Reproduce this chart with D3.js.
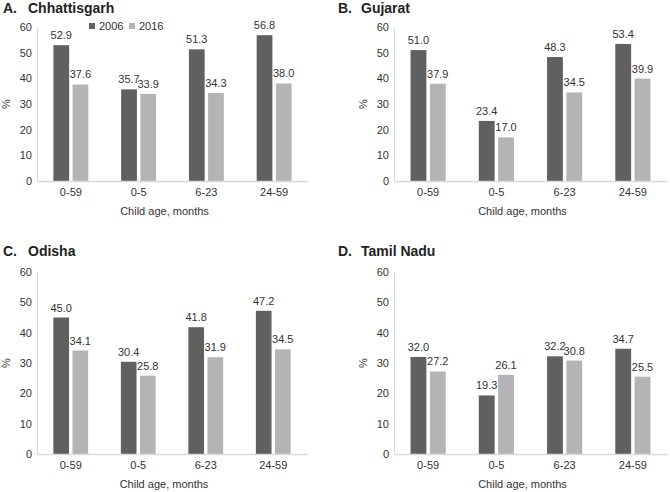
<!DOCTYPE html>
<html>
<head>
<meta charset="utf-8">
<script src="https://cdn.jsdelivr.net/npm/d3@7"></script>
<style>
  body { margin: 0; background: #fff; }
  svg { display: block; font-family: "Liberation Sans", Arial, sans-serif; }
</style>
</head>
<body>
<svg id="chart" width="670" height="492"></svg>
<script>
const categories = ["0-59", "0-5", "6-23", "24-59"];
const years = ["2006", "2016"];
const yTicks = [0, 10, 20, 30, 40, 50, 60];
const states = ["Chhattisgarh", "Gujarat", "Odisha", "Tamil Nadu"];
const letters = ["A.", "B.", "C.", "D."];
const chhattisgarh2006 = [52.9, 35.7, 51.3, 56.8];
const chhattisgarh2016 = [37.6, 33.9, 34.3, 38.0];
const gujarat2006 = [51.0, 23.4, 48.3, 53.4];
const gujarat2016 = [37.9, 17.0, 34.5, 39.9];
const odisha2006 = [45.0, 30.4, 41.8, 47.2];
const odisha2016 = [34.1, 25.8, 31.9, 34.5];
const tamilNadu2006 = [32.0, 19.3, 32.2, 34.7];
const tamilNadu2016 = [27.2, 26.1, 30.8, 25.5];
const xTitle = "Child age, months";
const yTitle = "%";

const seriesByState = [
  [chhattisgarh2006, chhattisgarh2016],
  [gujarat2006, gujarat2016],
  [odisha2006, odisha2016],
  [tamilNadu2006, tamilNadu2016]
];

const colors = { "2006": "#606060", "2016": "#b4b4b4" };
const textColor = "#333333";
const axisColor = "#d9d9d9";
const fs = 11;

// panel layout
const panels = [
  { ox: 0,   left: 37,  right: 308, top: 27,  bottom: 181, titleY: 13,  legend: true },
  { ox: 335, left: 394, right: 667, top: 27,  bottom: 181, titleY: 13,  legend: false },
  { ox: 0,   left: 37,  right: 307, top: 272, bottom: 454, titleY: 256, legend: false },
  { ox: 335, left: 394, right: 667, top: 272, bottom: 454, titleY: 256, legend: false }
];

const svg = d3.select("#chart");

panels.forEach((p, i) => {
  const g = svg.append("g");
  const x0 = d3.scaleBand().domain(categories).range([p.left, p.right]).padding(0);
  const bw = x0.bandwidth();
  const x1 = d3.scaleBand().domain(years)
    .range([bw * (0.5 - 0.2576), bw * (0.5 + 0.2576)]).paddingInner(0.18);
  const y = d3.scaleLinear().domain([0, 60]).range([p.bottom, p.top]);

  // title
  const t = g.append("text").attr("y", p.titleY).attr("font-weight", "bold")
    .attr("font-size", 14).attr("fill", "#222");
  t.append("tspan").attr("x", p.ox + 3).text(letters[i]);
  t.append("tspan").attr("x", p.ox + 28 - (i % 2 ? 2 : 0)).text(states[i]);

  // y axis
  const yAxis = g.append("g").attr("transform", `translate(${p.left},0)`)
    .call(d3.axisLeft(y).tickValues(yTicks).tickSize(0).tickPadding(5));
  yAxis.select(".domain").attr("stroke", axisColor).attr("stroke-width", 1);
  yAxis.selectAll("text").attr("font-size", fs).attr("fill", textColor)
    .attr("font-family", "Liberation Sans, Arial, sans-serif");

  // bars
  const data = [];
  categories.forEach((c, ci) => {
    years.forEach((yr, yi) => {
      data.push({ cat: c, year: yr, value: seriesByState[i][yi][ci] });
    });
  });
  g.selectAll("rect.bar").data(data).enter().append("rect")
    .attr("class", "bar")
    .attr("x", d => x0(d.cat) + x1(d.year))
    .attr("width", x1.bandwidth())
    .attr("y", d => y(d.value))
    .attr("height", d => y(0) - y(d.value))
    .attr("fill", d => colors[d.year]);

  // value labels
  g.selectAll("text.val").data(data).enter().append("text")
    .attr("class", "val")
    .attr("x", d => x0(d.cat) + x1(d.year) + x1.bandwidth() / 2)
    .attr("y", d => y(d.value) - 6)
    .attr("text-anchor", "middle")
    .attr("font-size", fs)
    .attr("fill", textColor)
    .text(d => d.value.toFixed(1));

  // x axis
  const xAxis = g.append("g").attr("transform", `translate(0,${p.bottom})`)
    .call(d3.axisBottom(x0).tickSize(0).tickPadding(7));
  xAxis.select(".domain").attr("stroke", axisColor).attr("stroke-width", 1.5);
  xAxis.selectAll("text").attr("font-size", fs).attr("fill", textColor)
    .attr("font-family", "Liberation Sans, Arial, sans-serif");

  // x title
  g.append("text")
    .attr("x", (p.left + p.right) / 2 - 8)
    .attr("y", p.bottom + 34)
    .attr("text-anchor", "middle")
    .attr("font-size", fs)
    .attr("fill", textColor)
    .text(xTitle);

  // y title
  g.append("text")
    .attr("transform", `translate(${p.ox + (i % 2 ? 28 : 6)},${(p.top + p.bottom) / 2}) rotate(-90)`)
    .attr("text-anchor", "middle")
    .attr("dy", "0.35em")
    .attr("font-size", fs)
    .attr("fill", textColor)
    .text(yTitle);

  // legend
  if (p.legend) {
    const lg = g.append("g");
    const lx = [89, 129];
    years.forEach((yr, k) => {
      lg.append("rect").attr("x", lx[k]).attr("y", 23).attr("width", 6).attr("height", 6)
        .attr("fill", colors[yr]);
      lg.append("text").attr("x", lx[k] + 10).attr("y", 30)
        .attr("font-size", fs).attr("fill", textColor).text(yr);
    });
  }
});
</script>
</body>
</html>
